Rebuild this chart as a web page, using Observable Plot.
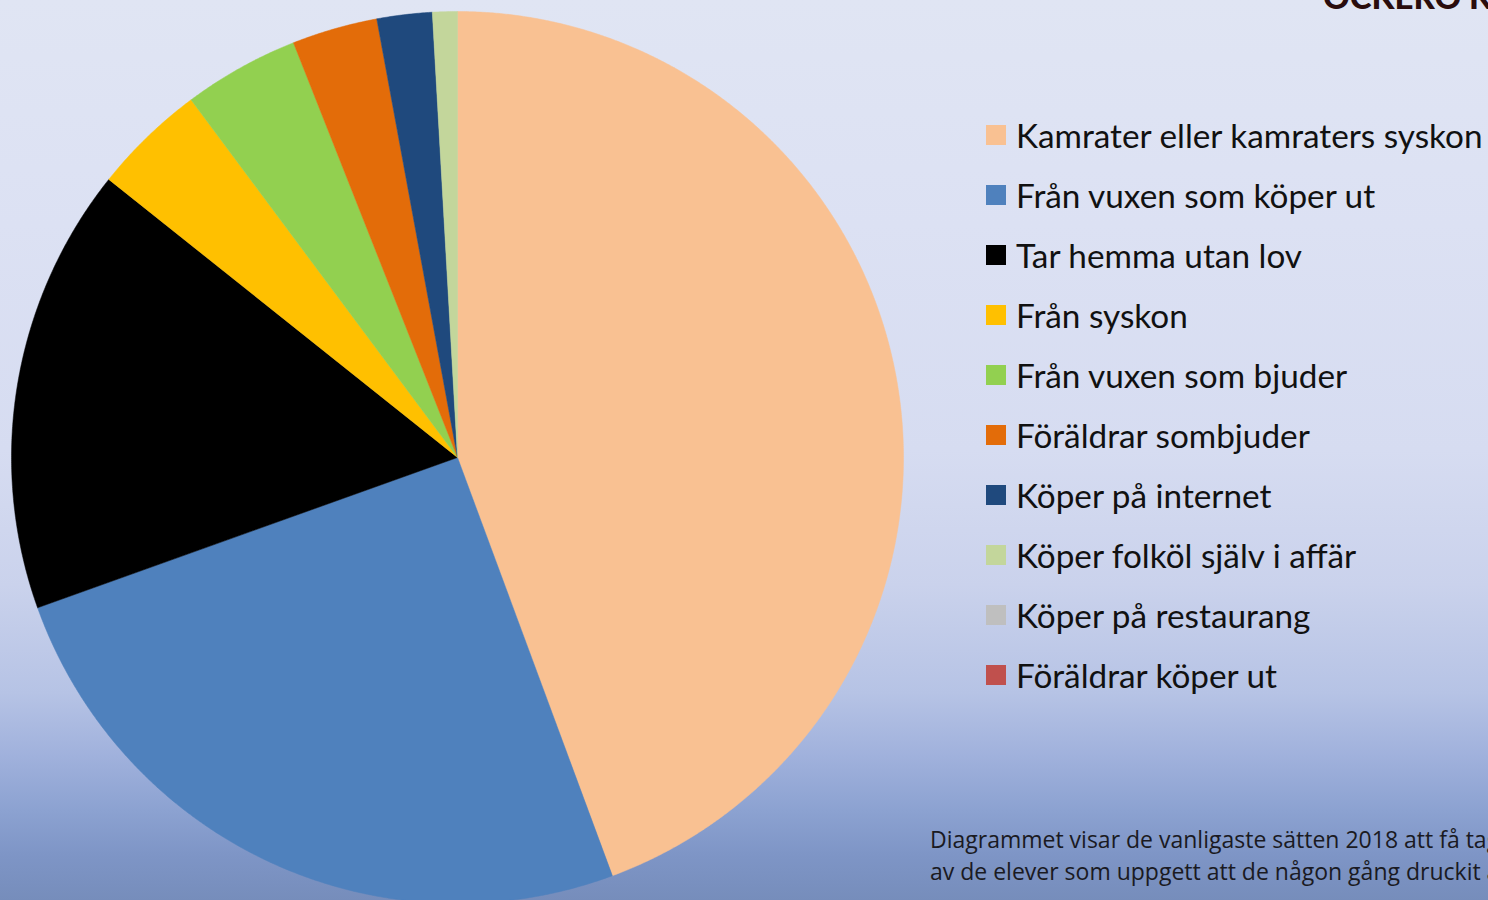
<!DOCTYPE html>
<html>
<head>
<meta charset="utf-8">
<script src="https://cdn.jsdelivr.net/npm/d3@7"></script>
<script src="https://cdn.jsdelivr.net/npm/@observablehq/plot@0.6"></script>
<style>
  html, body { margin: 0; padding: 0; }
  body {
    width: 1488px; height: 900px; overflow: hidden; position: relative;
    background: linear-gradient(to bottom,
      #e0e5f3 0%, #dce1f3 25%, #d6dcf1 50%, #cad2ec 65%,
      #b6c3e5 77%, #a0b1dc 84%, #8ca2d1 90%, #7e95c6 95%, #768dbb 100%);
    font-family: "Open Sans", "Noto Sans", sans-serif;
  }
  #chart { position: absolute; left: 0; top: 0; }
  #chart svg { background: transparent; }
  #brand {
    position: absolute; left: 1323px; top: -24px;
    font-family: "Lato", "Open Sans", sans-serif; font-weight: 900;
    font-size: 33px; color: #2a0d0d; letter-spacing: 0px; white-space: nowrap;
  }
  #legend { position: absolute; left: 986px; top: 0; }
  .row { position: absolute; left: 0; height: 40px; white-space: nowrap; display: flex; align-items: center; }
  .sw { width: 20px; height: 20px; margin-right: 10px; flex: none; }
  .lab { font-family: "Lato", "Open Sans", sans-serif; font-size: 33.3px; color: #111; }
  #caption {
    position: absolute; left: 930px; top: 823px; font-size: 23px; line-height: 32px;
    font-family: "Open Sans", sans-serif;
    color: #1a1a22; white-space: nowrap;
  }
</style>
</head>
<body>
<div id="brand">ÖCKERÖ KOMMUN</div>
<div id="chart"></div>
<div id="legend"></div>
<div id="caption">Diagrammet visar de vanligaste sätten 2018 att få tag på alkohol<br>av de elever som uppgett att de någon gång druckit alkohol</div>
<script>
const categories = [
  "Kamrater eller kamraters syskon",
  "Från vuxen som köper ut",
  "Tar hemma utan lov",
  "Från syskon",
  "Från vuxen som bjuder",
  "Föräldrar sombjuder",
  "Köper på internet",
  "Köper folköl själv i affär",
  "Köper på restaurang",
  "Föräldrar köper ut"
];
const values = [44.4, 25.2, 16.2, 4.1, 4.2, 3.1, 2.0, 0.9, 0, 0];
const colors = ["#F9C192", "#4F81BD", "#000000", "#FFC000", "#92D050", "#E36C09", "#1F497D", "#C3D69B", "#BFBFBF", "#C0504D"];

const data = categories.map((c, i) => ({category: c, value: values[i]}));
const arcs = d3.pie().sort(null).value(d => d.value).startAngle(0).endAngle(2 * Math.PI)(data);

// Build slice polygons (unit circle) from the pie angles
const pts = [];
for (const a of arcs) {
  if (a.endAngle - a.startAngle <= 0) continue;
  const c = a.data.category;
  pts.push({category: c, x: 0, y: 0});
  const n = Math.max(2, Math.ceil((a.endAngle - a.startAngle) / (Math.PI / 720)));
  for (let k = 0; k <= n; k++) {
    const t = a.startAngle + (a.endAngle - a.startAngle) * k / n;
    pts.push({category: c, x: Math.sin(t), y: Math.cos(t)});
  }
  pts.push({category: c, x: 0, y: 0});
}

const W = 1488, H = 900, cx = 457, cy = 457, R = 446;
const chart = Plot.plot({
  width: W, height: H,
  marginLeft: 0, marginRight: 0, marginTop: 0, marginBottom: 0,
  x: {domain: [-cx / R, (W - cx) / R], axis: null},
  y: {domain: [-(H - cy) / R, cy / R], axis: null},
  color: {domain: categories, range: colors, legend: false},
  style: {background: "transparent"},
  marks: [
    Plot.line(pts, {x: "x", y: "y", z: "category", fill: "category", stroke: "category", strokeWidth: 0.5, curve: "linear"})
  ]
});
document.getElementById("chart").appendChild(chart);

// Legend
const legend = document.getElementById("legend");
categories.forEach((c, i) => {
  const row = document.createElement("div");
  row.className = "row";
  row.style.top = (135 + 60 * i - 20) + "px";
  const sw = document.createElement("div");
  sw.className = "sw";
  sw.style.background = colors[i];
  const lab = document.createElement("span");
  lab.className = "lab";
  lab.textContent = c;
  row.appendChild(sw);
  row.appendChild(lab);
  legend.appendChild(row);
});
</script>
</body>
</html>
